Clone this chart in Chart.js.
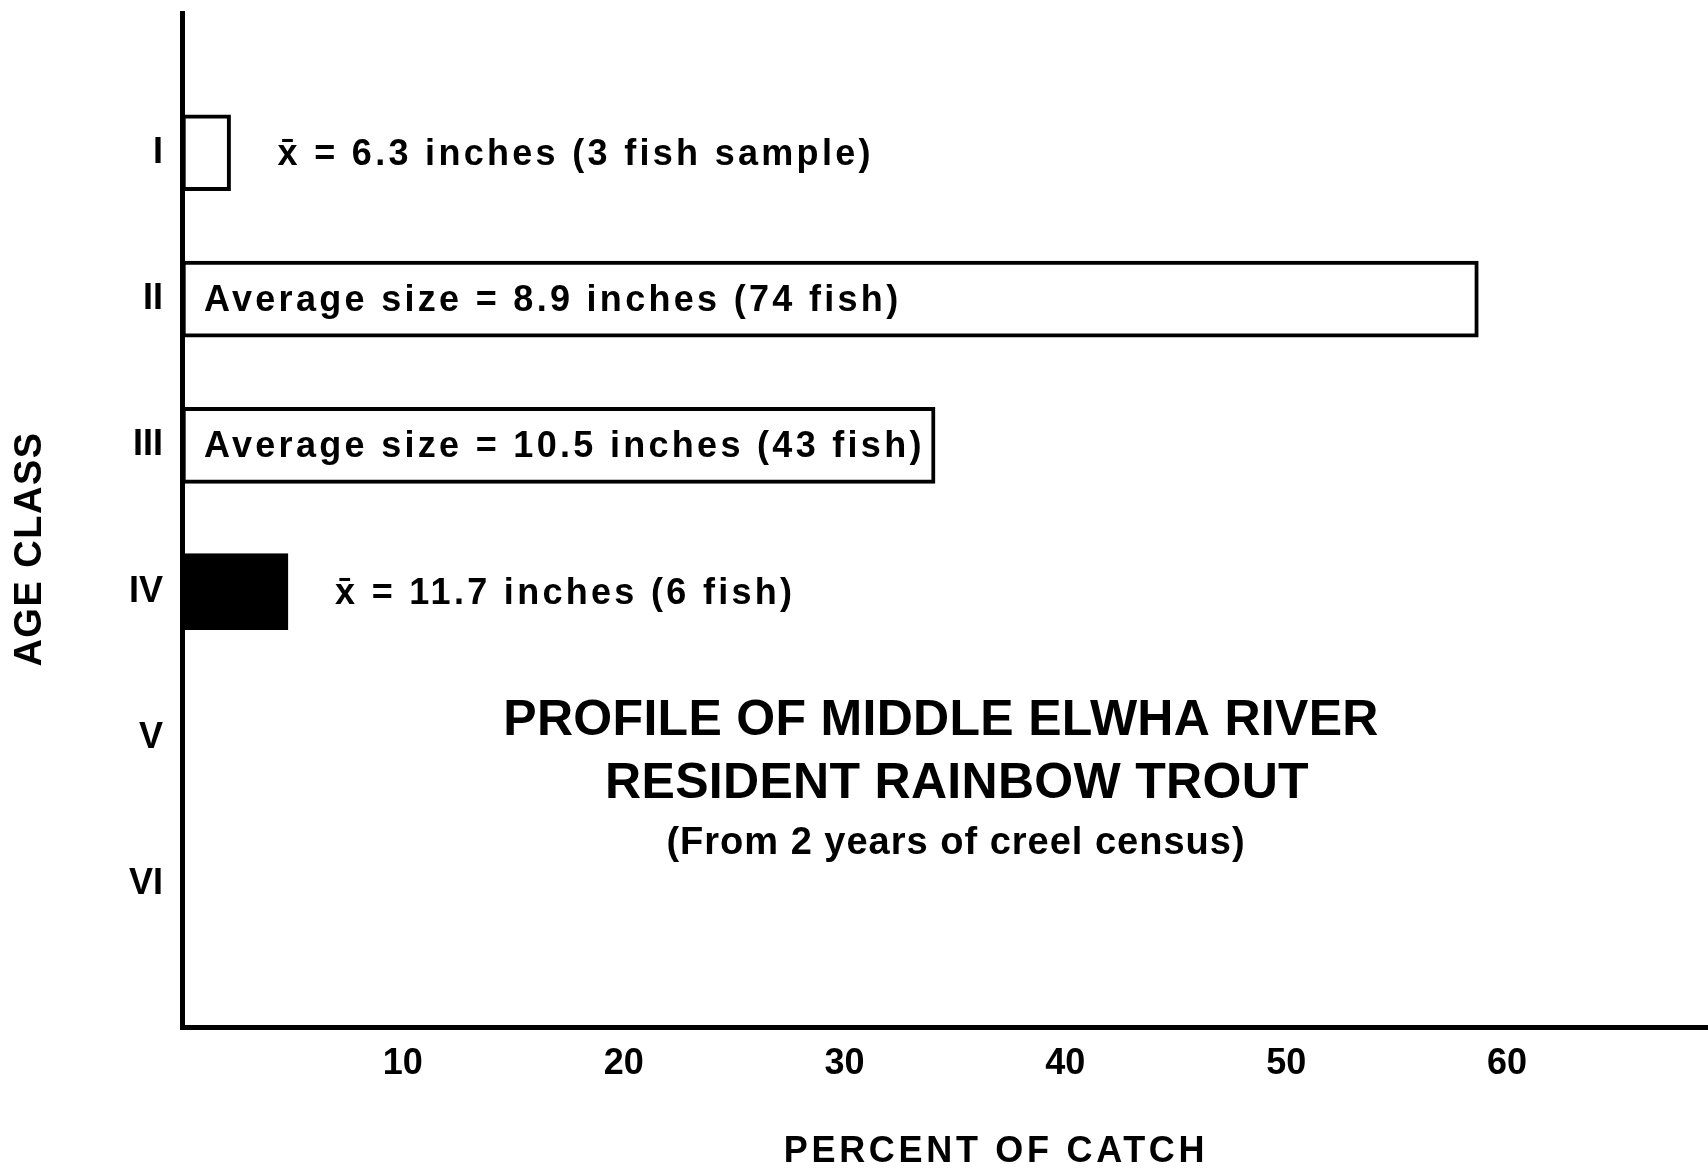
<!DOCTYPE html>
<html>
<head>
<meta charset="utf-8">
<script src="https://cdn.jsdelivr.net/npm/chart.js@4/dist/chart.umd.min.js"></script>
<style>
html,body{margin:0;padding:0;background:#fff;overflow:hidden}
canvas{display:block}
</style>
</head>
<body>
<canvas id="c" width="1708" height="1173"></canvas>
<script>
// ---- data ----
const ageClasses = ['I', 'II', 'III', 'IV', 'V', 'VI'];
const percentOfCatch = [2.2, 58.7, 34.1, 4.8, null, null];
const barFill = ['#ffffff', '#ffffff', '#ffffff', '#000000', '#ffffff', '#ffffff'];
const barNotes = [
  'x\u0304 = 6.3 inches (3 fish sample)',
  'Average size = 8.9 inches (74 fish)',
  'Average size = 10.5 inches (43 fish)',
  'x\u0304 = 11.7 inches (6 fish)',
  '',
  ''
];
const noteInside = [false, true, true, false, false, false];
const xTickValues = [10, 20, 30, 40, 50, 60];
const titleLines = ['PROFILE OF MIDDLE ELWHA RIVER', 'RESIDENT RAINBOW TROUT', '(From 2 years of creel census)'];
const xAxisTitle = 'PERCENT OF CATCH';
const yAxisTitle = 'AGE CLASS';

const FONT = '"Liberation Sans", Arial, Helvetica, sans-serif';
Chart.defaults.font.family = FONT;
Chart.defaults.color = '#000';

const points = [];
ageClasses.forEach((c, i) => {
  if (percentOfCatch[i] !== null) points.push({ x: percentOfCatch[i], y: i + 1 });
});

const textPlugin = {
  id: 'texts',
  afterDraw(chart) {
    const { ctx, chartArea, scales } = chart;
    const x = scales.x, y = scales.y;
    ctx.save();
    ctx.fillStyle = '#000';
    ctx.textBaseline = 'middle';

    // bar notes
    ctx.textAlign = 'left';
    ctx.font = 'bold 36px ' + FONT;
    ctx.letterSpacing = '3.3px';
    barNotes.forEach((t, i) => {
      if (!t) return;
      const px = noteInside[i] ? x.getPixelForValue(0) + 22 : x.getPixelForValue(percentOfCatch[i]) + 47;
      ctx.fillText(t, px, y.getPixelForValue(i + 1) + 2);
    });

    // title block
    ctx.textAlign = 'center';
    ctx.letterSpacing = '0.3px';
    ctx.font = 'bold 50px ' + FONT;
    ctx.fillText(titleLines[0], chartArea.left + 759, 721);
    ctx.fillText(titleLines[1], chartArea.left + 775, 784);
    ctx.font = 'bold 38px ' + FONT;
    ctx.letterSpacing = '1px';
    ctx.fillText(titleLines[2], chartArea.left + 774, 844);

    // x axis title
    ctx.font = 'bold 36px ' + FONT;
    ctx.letterSpacing = '3.7px';
    ctx.fillText(xAxisTitle, chartArea.left + 814, 1152);

    // y axis title
    ctx.translate(31, 549);
    ctx.rotate(-Math.PI / 2);
    ctx.font = 'bold 38px ' + FONT;
    ctx.letterSpacing = '1.5px';
    ctx.fillText(yAxisTitle, 0, 0);
    ctx.restore();
  }
};

function noEdgePadding(s) {
  s.paddingTop = 0; s.paddingBottom = 0; s.paddingLeft = 0; s.paddingRight = 0;
}

new Chart(document.getElementById('c'), {
  type: 'bar',
  data: {
    datasets: [{
      data: points,
      backgroundColor: points.map(p => barFill[p.y - 1]),
      borderColor: '#000',
      borderWidth: 4,
      borderSkipped: false,
      barThickness: 76
    }]
  },
  options: {
    indexAxis: 'y',
    responsive: false,
    animation: false,
    events: [],
    layout: { padding: { top: 13, right: 0, left: 0, bottom: 0 } },
    plugins: { legend: { display: false }, tooltip: { enabled: false }, title: { display: false } },
    scales: {
      x: {
        type: 'linear',
        min: 0,
        max: 69.1,
        offset: false,
        grid: { display: false, drawTicks: false },
        border: { display: true, width: 5, color: '#000' },
        afterBuildTicks: s => { s.ticks = xTickValues.map(v => ({ value: v })); },
        afterFit: s => { s.height = 146; noEdgePadding(s); },
        ticks: { padding: 15, font: { size: 36, weight: 'bold' }, color: '#000', maxRotation: 0, autoSkip: false }
      },
      y: {
        type: 'linear',
        reverse: true,
        min: 0.045,
        max: 6.975,
        offset: false,
        grid: { display: false, drawTicks: false },
        border: { display: true, width: 5, color: '#000' },
        afterBuildTicks: s => { s.ticks = ageClasses.map((c, i) => ({ value: i + 1 })); },
        afterFit: s => { s.width = 182; noEdgePadding(s); },
        ticks: {
          padding: 19,
          autoSkip: false,
          font: { size: 36, weight: 'bold' },
          color: '#000',
          callback: v => ageClasses[v - 1] || ''
        }
      }
    }
  },
  plugins: [textPlugin]
});
</script>
</body>
</html>
